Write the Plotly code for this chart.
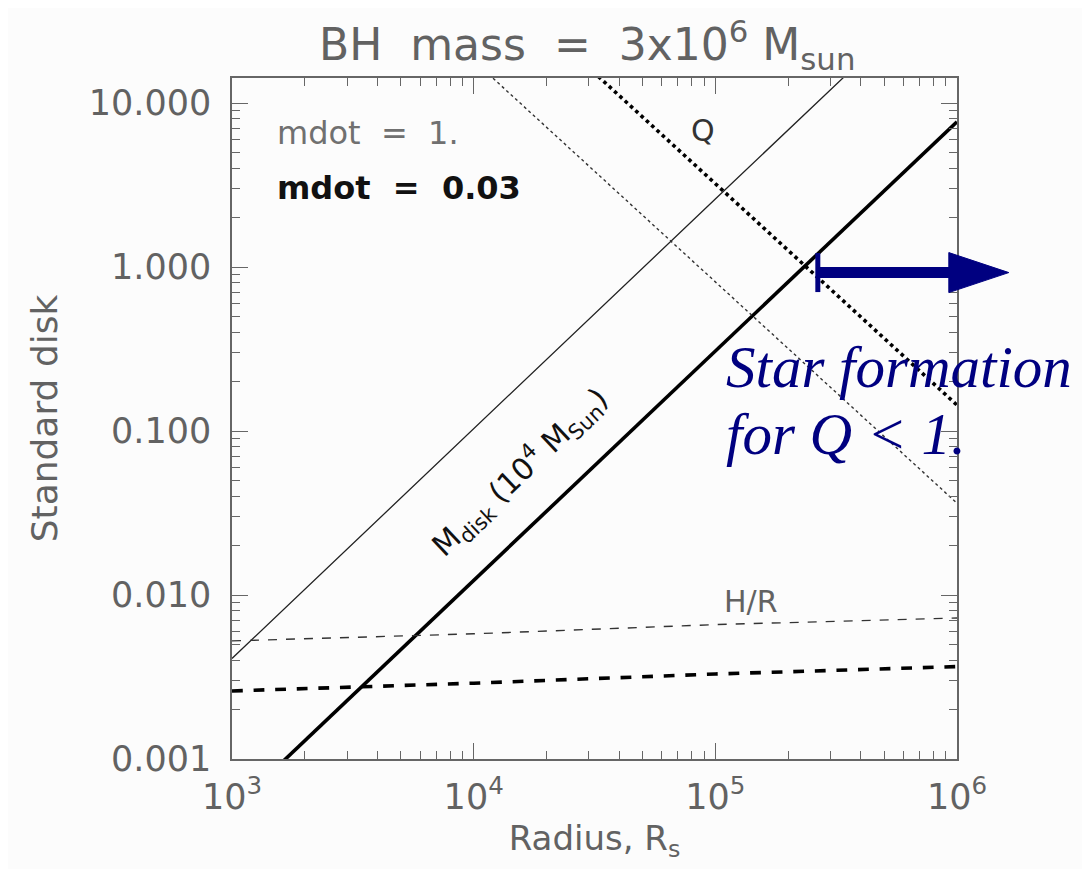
import math
import plotly.graph_objects as go

# ---------------- data ----------------
radius = [1e3, 1e4, 1e5, 1e6]                      # R / R_s
mdisk_mdot1 = [0.0041, 0.104, 2.6, 65.0]           # thin solid  (10^4 Msun)
mdisk_mdot003 = [0.00049, 0.0123, 0.31, 7.7]       # thick solid
q_mdot1 = [407.0, 18.2, 0.81, 0.0363]              # thin dotted
q_mdot003 = [1618.0, 72.3, 3.23, 0.144]            # thick dotted
hr_mdot1 = [0.00525, 0.0058, 0.0066, 0.00724]      # thin dashed
hr_mdot003 = [0.0026, 0.0029, 0.0033, 0.00366]     # thick dashed

star_formation_R = 2.63e5   # where Q drops below 1 (arrow start)

y_tickvals = [0.001, 0.01, 0.1, 1, 10]
y_ticktext = ["0.001", "0.010", "0.100", "1.000", "10.000"]
x_tickvals = [1e3, 1e4, 1e5, 1e6]
x_ticktext = ["10<sup>3</sup>", "10<sup>4</sup>", "10<sup>5</sup>", "10<sup>6</sup>"]

x_minor = [k * 10 ** n for n in range(3, 6) for k in range(2, 10)]
y_minor = [k * 10 ** n for n in range(-3, 1) for k in range(2, 10)]

XRANGE = [3, 6]
YRANGE = [-3, 1.153]

FONT = "DejaVu Sans"
GRAY = "#626262"
NAVY = "#000080"

fig = go.Figure()

def add(y, width, dash, color):
    fig.add_trace(go.Scatter(x=radius, y=y, mode="lines",
                             line=dict(color=color, width=width, dash=dash),
                             showlegend=False, hoverinfo="skip"))

add(mdisk_mdot1, 1.3, "solid", "#222222")
add(mdisk_mdot003, 3.6, "solid", "#000000")
add(q_mdot1, 1.4, "dot", "#333333")
add(q_mdot003, 3.6, "dot", "#000000")
add(hr_mdot1, 1.4, "dash", "#333333")
add(hr_mdot003, 3.6, "dash", "#000000")

axis_common = dict(
    type="log", showgrid=False, zeroline=False,
    showline=True, linecolor="#666666", linewidth=1.5, mirror="ticks",
    ticks="inside", ticklen=16, tickwidth=1.2, tickcolor="#666666",
    tickfont=dict(family=FONT, size=35, color=GRAY),
    tickmode="array",
)

fig.update_xaxes(**axis_common, range=XRANGE, tickvals=x_tickvals, ticktext=x_ticktext,
                 minor=dict(tickmode="array", tickvals=x_minor, ticks="inside",
                            ticklen=8, tickcolor="#666666", tickwidth=1.2),
                 title=dict(text="Radius, R<sub>s</sub>", font=dict(family=FONT, size=34, color=GRAY),
                            standoff=10),
                 ticklabelstandoff=6)
fig.update_yaxes(**axis_common, range=YRANGE, tickvals=y_tickvals, ticktext=y_ticktext,
                 minor=dict(tickmode="array", tickvals=y_minor, ticks="inside",
                            ticklen=8, tickcolor="#666666", tickwidth=1.2),
                 title=dict(text="Standard disk", font=dict(family=FONT, size=36, color=GRAY),
                            standoff=20),
                 ticklabelstandoff=12)

# page has an 8px body margin; reference frame: plot area x 232..957, y 78..759
OFF = 8
W, H = 1090 - OFF, 869 - OFF
L, T = 232 - OFF, 78 - OFF
pw, ph = 725, 681
R = W - L - pw
B = H - T - ph

def px_to_paper(px, py):
    return (px - OFF - L) / pw, (T + ph - (py - OFF)) / ph

annotations = []
mx, my = px_to_paper(275, 133)
annotations.append(dict(xref="paper", yref="paper", x=mx, y=my, text="mdot  =  1.",
                        showarrow=False, xanchor="left", yanchor="middle",
                        font=dict(family=FONT, size=32, color="#707070")))
mx, my = px_to_paper(275, 188)
annotations.append(dict(xref="paper", yref="paper", x=mx, y=my, text="<b>mdot  =  0.03</b>",
                        showarrow=False, xanchor="left", yanchor="middle",
                        font=dict(family=FONT, size=32, color="#111111")))
# in-plot labels (annotations on log axes take log10 positions)
annotations.append(dict(xref="x", yref="y", x=math.log10(8.9e4), y=math.log10(6.8), text="Q",
                        showarrow=False, xanchor="center", yanchor="middle",
                        font=dict(family=FONT, size=30, color="#333333")))
annotations.append(dict(xref="x", yref="y", x=math.log10(1.4e5), y=math.log10(0.0091), text="H/R",
                        showarrow=False, xanchor="center", yanchor="middle",
                        font=dict(family=FONT, size=30, color=GRAY)))
annotations.append(dict(xref="x", yref="y", x=math.log10(1.55e4), y=math.log10(0.056),
                        text="M<sub>disk</sub> (10<sup>4</sup> M<sub>Sun</sub>)", textangle=-43.5,
                        showarrow=False, xanchor="center", yanchor="middle",
                        font=dict(family=FONT, size=30, color="#111111")))
# title
tx, ty = px_to_paper(587, 45)
annotations.append(dict(xref="paper", yref="paper", x=tx, y=ty,
                        text="BH  mass  =  3x10<sup>6</sup> M<sub>sun</sub>",
                        showarrow=False, xanchor="center", yanchor="middle",
                        font=dict(family=FONT, size=44, color=GRAY)))
# star formation text
for txt, py in [("Star formation", 367), ("for Q < 1.", 434)]:
    ax_, ay_ = px_to_paper(724, py)
    annotations.append(dict(xref="paper", yref="paper", x=ax_, y=ay_, text=txt, xanchor="left",
                            yanchor="middle", showarrow=False,
                            font=dict(family="Liberation Serif", size=59, color=NAVY, style="italic")))

# arrow from the Q = 1 radius outward
x0 = (math.log10(star_formation_R) - XRANGE[0]) / (XRANGE[1] - XRANGE[0])
y_arrow = (math.log10(1.0) - YRANGE[0]) / (YRANGE[1] - YRANGE[0])
def dx(p):
    return p / pw
def dy(p):
    return p / ph
yc = y_arrow - dy(5.5)
shapes = [
    dict(type="line", xref="paper", yref="paper", x0=x0, x1=x0 + dx(135), y0=yc, y1=yc,
         line=dict(color=NAVY, width=11)),
    dict(type="line", xref="paper", yref="paper", x0=x0 + dx(1), x1=x0 + dx(1), y0=yc - dy(19.5), y1=yc + dy(19.5),
         line=dict(color=NAVY, width=5)),
    dict(type="path", xref="paper", yref="paper",
         path=f"M {x0 + dx(132)},{yc + dy(20)} L {x0 + dx(192)},{yc} L {x0 + dx(132)},{yc - dy(20)} Z",
         fillcolor=NAVY, line=dict(color=NAVY, width=1)),
]

fig.update_layout(
    width=W, height=H, margin=dict(l=L, r=R, t=T, b=B, autoexpand=False),
    paper_bgcolor="#fcfcfc", plot_bgcolor="#fcfcfc",
    showlegend=False, annotations=annotations, shapes=shapes,
)

fig.write_html("out.html")
